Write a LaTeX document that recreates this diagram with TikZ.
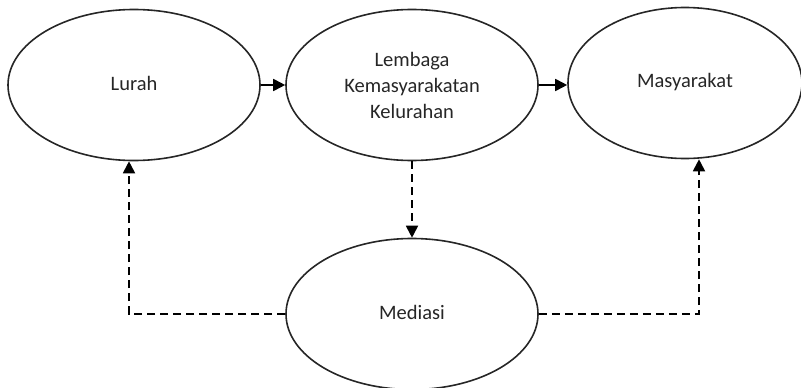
\documentclass[tikz,border=0pt]{standalone}
\usepackage{fontspec}
\setmainfont{Carlito}
\usetikzlibrary{shapes.geometric,arrows.meta}
\begin{document}
\begin{tikzpicture}[x=1pt,y=-1pt,
  oval/.style={draw=black!85, line width=1.6pt, ellipse, inner sep=0pt, minimum width=252pt, minimum height=151pt, align=center, font=\fontsize{20.5}{26}\selectfont, text=black!85},
  solidarrow/.style={line width=1.8pt, -{Triangle[length=12pt,width=12pt]}},
  dasharrow/.style={line width=1.8pt, dash pattern=on 8pt off 5pt, -{Triangle[length=12pt,width=12pt]}}]
\useasboundingbox (0,0) rectangle (801,388);
\node[oval] (lurah) at (134,85) {\raisebox{3pt}{Lurah}};
\node[oval] (lembaga) at (412,85) {Lembaga\\Kemasyarakatan\\Kelurahan};
\node[oval, minimum width=234pt, minimum height=151pt] (masy) at (685,83) {\raisebox{5pt}{Masyarakat}};
\node[oval] (mediasi) at (412,314) {\raisebox{3pt}{Mediasi}};
\draw[solidarrow] (lurah.east) -- (lembaga.west);
\draw[solidarrow] (lembaga.east) -- (masy.west |- lembaga.east);
\draw[dasharrow] (lembaga.south) -- (mediasi.north);
\coordinate (cl) at (129,314);
\coordinate (cr) at (699,314);
\draw[dasharrow] (mediasi.west) -- (cl) -- (cl |- lurah.south);
\draw[dasharrow] (mediasi.east) -- (cr) -- (cr |- masy.south);
\end{tikzpicture}
\end{document}
